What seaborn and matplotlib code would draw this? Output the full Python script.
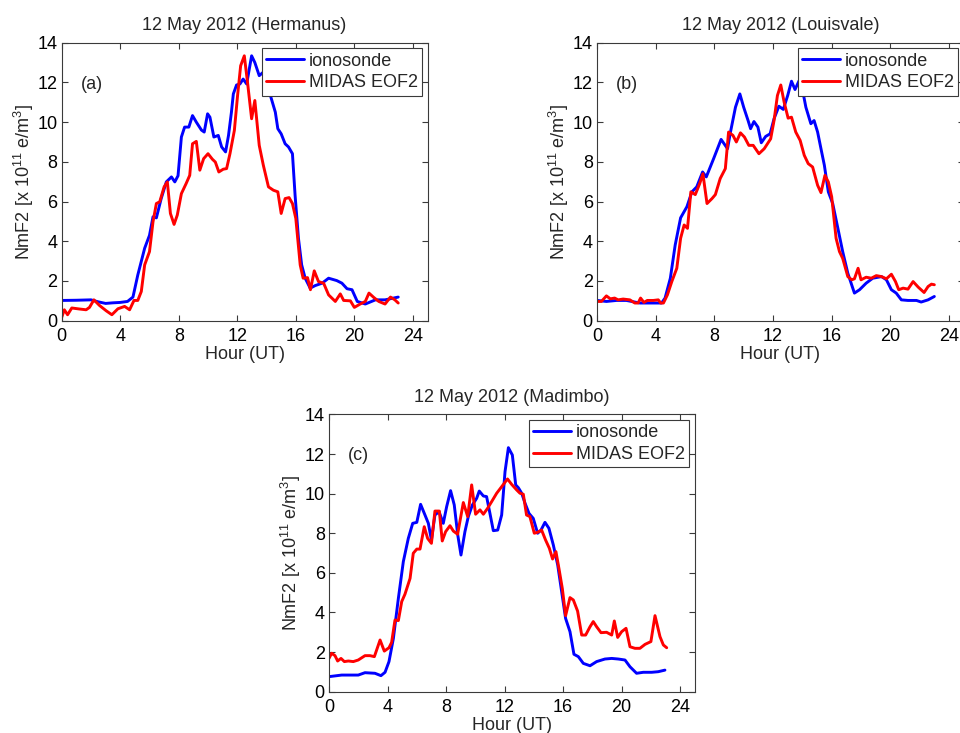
import numpy as np
import pandas as pd
import matplotlib
matplotlib.use("Agg")
import matplotlib.pyplot as plt
import seaborn as sns

# ---------------- data ----------------
series_names = ["ionosonde", "MIDAS EOF2"]
series_colors = ["#0000ff", "#ff0000"]
x_ticks = [0, 4, 8, 12, 16, 20, 24]
y_ticks = [0, 2, 4, 6, 8, 10, 12, 14]

herm_iono_hour = [0, 1, 2, 2.5, 3, 3.5, 4, 4.5, 4.87, 5.2, 5.67, 6.0, 6.24, 6.47, 6.8, 7.15,
                  7.5, 7.73, 7.95, 8.18, 8.4, 8.69, 8.94, 9.2, 9.55, 9.74, 9.97, 10.13, 10.4,
                  10.7, 10.93, 11.2, 11.4, 11.6, 11.73, 11.95, 12.18, 12.4, 12.64, 12.98, 13.2,
                  13.5, 13.75, 14.0, 14.3, 14.6, 14.77, 15.0, 15.27, 15.5, 15.77, 15.95, 16.18,
                  16.4, 16.64, 16.98, 17.33, 17.8, 18.24, 18.8, 19.15, 19.5, 19.84, 20.2, 20.75,
                  21.44, 22.1, 23.0]
herm_iono_val = [1.02, 1.03, 1.05, 0.95, 0.87, 0.9, 0.92, 0.97, 1.19, 2.3, 3.65, 4.3, 5.23, 5.18,
                 6.15, 6.99, 7.24, 6.99, 7.3, 9.25, 9.75, 9.75, 10.33, 10.0, 9.6, 9.5, 10.42,
                 10.25, 9.25, 9.33, 8.75, 8.5, 9.33, 10.5, 11.42, 11.87, 11.92, 12.17, 11.92,
                 13.34, 13.0, 12.34, 12.5, 12.2, 11.25, 10.5, 9.67, 9.41, 8.91, 8.75, 8.41, 6.32,
                 4.15, 2.81, 2.14, 1.64, 1.77, 1.89, 2.14, 2.02, 1.89, 1.61, 1.56, 0.97, 0.84,
                 1.05, 1.05, 1.19]
herm_midas_hour = [0, 0.18, 0.4, 0.69, 1.2, 1.67, 1.9, 2.2, 2.58, 3.04, 3.43, 3.84, 4.3, 4.64,
                   4.94, 5.2, 5.44, 5.67, 6.0, 6.24, 6.47, 6.7, 7.0, 7.22, 7.43, 7.68, 7.9, 8.18,
                   8.5, 8.75, 8.94, 9.2, 9.44, 9.7, 10.0, 10.3, 10.5, 10.74, 11.04, 11.27, 11.5,
                   11.8, 12.02, 12.23, 12.48, 12.7, 12.98, 13.2, 13.5, 13.78, 14.13, 14.47, 14.77,
                   15.0, 15.27, 15.54, 15.77, 16.0, 16.3, 16.5, 16.8, 17.0, 17.26, 17.55, 17.9,
                   18.24, 18.7, 19.04, 19.27, 19.73, 20.0, 20.4, 20.75, 21.0, 21.33, 21.67, 22.1,
                   22.47, 22.77, 23.0]
herm_midas_val = [0.17, 0.55, 0.3, 0.64, 0.59, 0.55, 0.67, 1.05, 0.77, 0.5, 0.3, 0.6, 0.72, 0.55,
                  1.02, 1.02, 1.47, 2.81, 3.48, 4.98, 5.9, 5.99, 6.74, 6.99, 5.4, 4.85, 5.32, 6.4,
                  6.9, 7.32, 8.91, 9.03, 7.58, 8.16, 8.41, 8.13, 7.99, 7.49, 7.63, 7.66, 8.41,
                  9.58, 11.34, 12.84, 13.34, 12.0, 10.17, 11.09, 8.83, 7.83, 6.74, 6.57, 6.49,
                  5.4, 6.15, 6.2, 5.9, 5.15, 2.81, 2.14, 2.17, 1.56, 2.51, 1.97, 1.89, 1.3, 0.97,
                  1.35, 1.02, 1.0, 0.67, 0.84, 0.97, 1.39, 1.17, 0.97, 0.84, 1.19, 1.05, 0.89]

louis_iono_hour = [0, 0.64, 1.33, 2.0, 2.93, 3.6, 4.4, 4.64, 5.0, 5.33, 5.7, 6.13, 6.47, 6.8,
                   7.2, 7.45, 7.95, 8.46, 8.9, 9.1, 9.44, 9.74, 10.0, 10.3, 10.47, 10.7, 10.97,
                   11.2, 11.5, 11.8, 12.07, 12.4, 12.7, 13.0, 13.26, 13.5, 13.78, 14.0, 14.24,
                   14.58, 14.8, 15.04, 15.27, 15.5, 15.77, 16.07, 16.4, 16.75, 17.1, 17.55, 17.9,
                   18.35, 18.8, 19.4, 19.73, 20.07, 20.4, 20.75, 21.2, 21.78, 22.1, 22.57, 23.0]
louis_iono_val = [1.02, 0.97, 1.02, 1.02, 0.89, 0.89, 0.89, 1.14, 2.14, 3.81, 5.18, 5.74, 6.49,
                  6.74, 7.49, 7.24, 8.16, 9.13, 8.66, 9.5, 10.75, 11.42, 10.75, 10.08, 9.67,
                  10.03, 9.75, 8.96, 9.28, 9.41, 10.17, 10.8, 10.64, 11.34, 12.06, 11.64, 12.09,
                  11.67, 10.75, 9.92, 10.08, 9.5, 8.66, 7.83, 6.49, 5.9, 4.73, 3.48, 2.39, 1.39,
                  1.56, 1.89, 2.14, 2.22, 2.06, 1.56, 1.39, 1.05, 1.02, 1.02, 0.94, 1.05, 1.22]
louis_midas_hour = [0, 0.3, 0.64, 0.91, 1.2, 1.44, 1.78, 2.24, 2.58, 2.8, 2.97, 3.2, 3.43, 3.84,
                    4.18, 4.34, 4.53, 4.8, 5.1, 5.44, 5.7, 5.94, 6.17, 6.4, 6.7, 7.0, 7.22, 7.5,
                    7.84, 8.07, 8.4, 8.75, 8.97, 9.27, 9.5, 9.78, 10.05, 10.35, 10.65, 11.04,
                    11.4, 11.84, 12.07, 12.3, 12.53, 12.76, 13.03, 13.26, 13.55, 13.85, 14.13,
                    14.4, 14.7, 15.04, 15.27, 15.54, 15.77, 16.0, 16.3, 16.53, 16.75, 17.1, 17.37,
                    17.55, 17.8, 18.0, 18.35, 18.7, 19.04, 19.4, 19.73, 20.07, 20.35, 20.57,
                    20.87, 21.2, 21.55, 21.9, 22.3, 22.57, 22.8, 23.0]
louis_midas_val = [0.97, 0.97, 1.25, 1.1, 1.14, 1.05, 1.09, 1.05, 0.89, 0.89, 1.14, 0.92, 1.02,
                   1.02, 1.05, 0.89, 0.89, 1.3, 1.97, 2.64, 4.15, 4.82, 4.65, 6.49, 6.35, 6.9,
                   7.4, 5.9, 6.15, 6.35, 7.16, 7.66, 9.5, 9.33, 9.0, 9.46, 9.25, 8.83, 8.83, 8.41,
                   8.66, 9.16, 10.08, 11.34, 11.87, 11.0, 10.2, 10.25, 9.5, 9.08, 8.33, 7.91,
                   7.74, 6.82, 6.45, 7.32, 6.99, 6.24, 4.15, 3.48, 3.14, 2.22, 2.06, 2.11, 2.64,
                   2.06, 2.19, 2.14, 2.27, 2.22, 2.11, 2.34, 1.97, 1.56, 1.64, 1.59, 1.97, 1.69,
                   1.42, 1.72, 1.84, 1.81]

madi_iono_hour = [0, 0.87, 2.0, 2.46, 3.14, 3.55, 3.83, 4.1, 4.4, 4.74, 5.08, 5.42, 5.72, 6.0,
                  6.26, 6.56, 6.79, 7.0, 7.24, 7.52, 7.81, 8.04, 8.31, 8.56, 8.8, 9.02, 9.29,
                  9.52, 9.8, 10.09, 10.27, 10.55, 10.77, 11.0, 11.23, 11.53, 11.8, 12.03, 12.26,
                  12.53, 12.76, 12.94, 13.17, 13.4, 13.67, 13.96, 14.26, 14.49, 14.76, 15.03,
                  15.33, 15.63, 15.9, 16.17, 16.47, 16.74, 17.04, 17.38, 17.84, 18.29, 18.86,
                  19.32, 19.77, 20.23, 20.57, 21.02, 21.48, 22.05, 22.5, 22.96]
madi_iono_val = [0.76, 0.84, 0.84, 0.96, 0.93, 0.81, 0.98, 1.52, 2.69, 4.71, 6.57, 7.74, 8.5,
                 8.55, 9.46, 8.92, 8.5, 7.66, 8.92, 9.09, 8.5, 9.34, 10.15, 9.43, 7.91, 6.9,
                 8.08, 8.84, 9.43, 9.76, 10.13, 9.88, 9.85, 9.0, 8.13, 8.16, 8.92, 11.11, 12.32,
                 11.95, 10.44, 10.3, 10.02, 9.51, 9.0, 8.75, 8.0, 8.16, 8.55, 8.25, 7.41, 6.4,
                 5.05, 3.7, 3.03, 1.89, 1.77, 1.43, 1.31, 1.52, 1.65, 1.68, 1.65, 1.6, 1.26,
                 0.93, 0.98, 0.98, 1.01, 1.09]
madi_midas_hour = [0, 0.18, 0.41, 0.59, 0.82, 1.05, 1.32, 1.66, 2.0, 2.46, 2.8, 3.1, 3.49, 3.78,
                   4.1, 4.28, 4.51, 4.74, 4.97, 5.19, 5.54, 5.76, 6.0, 6.22, 6.51, 6.74, 7.0,
                   7.24, 7.54, 7.74, 7.97, 8.27, 8.5, 8.79, 9.18, 9.48, 9.75, 10.02, 10.32, 10.55,
                   10.84, 11.12, 11.46, 11.8, 12.2, 12.48, 12.82, 13.05, 13.28, 13.5, 13.73,
                   14.03, 14.26, 14.53, 14.8, 15.06, 15.28, 15.51, 15.72, 15.95, 16.17, 16.47,
                   16.7, 16.99, 17.27, 17.54, 17.84, 18.06, 18.29, 18.59, 18.97, 19.32, 19.5,
                   19.73, 20.0, 20.3, 20.57, 20.91, 21.25, 21.6, 22.0, 22.28, 22.62, 22.85, 23.08]
madi_midas_val = [1.68, 1.94, 1.82, 1.55, 1.68, 1.52, 1.55, 1.52, 1.6, 1.82, 1.82, 1.77, 2.61,
                  2.05, 2.22, 2.49, 3.62, 3.59, 4.55, 4.92, 5.72, 6.99, 7.2, 7.2, 8.33, 7.74,
                  7.49, 9.12, 9.12, 7.61, 8.08, 8.38, 8.11, 7.95, 9.55, 8.84, 10.44, 8.96, 9.18,
                  8.96, 9.26, 9.6, 10.02, 10.35, 10.74, 10.47, 10.19, 10.02, 9.97, 8.92, 8.84,
                  8.0, 8.05, 8.16, 7.66, 7.24, 6.7, 7.07, 6.2, 5.19, 3.84, 4.75, 4.63, 4.07,
                  2.86, 2.86, 3.28, 3.54, 3.28, 2.98, 3.0, 2.86, 3.57, 2.74, 3.03, 3.2, 2.27,
                  2.19, 2.19, 2.39, 2.53, 3.84, 2.78, 2.36, 2.22]

titles = ["12 May 2012 (Hermanus)", "12 May 2012 (Louisvale)", "12 May 2012 (Madimbo)"]
panel_labels = ["(a)", "(b)", "(c)"]
y_label = r"NmF2 [x 10$^{11}$ e/m$^{3}$]"
x_label = "Hour (UT)"

# ---------------- style ----------------
sns.set_style("ticks")
plt.rcParams.update({
    "font.family": ["Liberation Sans", "DejaVu Sans"],
    "font.size": 13,
    "mathtext.fontset": "custom",
    "mathtext.rm": "Liberation Sans",
    "mathtext.it": "Liberation Sans:italic",
    "mathtext.bf": "Liberation Sans:bold",
    "mathtext.default": "regular",
    "axes.edgecolor": "#3a3a3a",
    "axes.linewidth": 0.8,
    "xtick.direction": "in",
    "ytick.direction": "in",
    "xtick.top": True,
    "ytick.right": True,
    "xtick.major.size": 4,
    "ytick.major.size": 4,
    "xtick.major.width": 0.8,
    "ytick.major.width": 0.8,
    "xtick.major.pad": 5.5,
    "ytick.major.pad": 3,
    "xtick.color": "#3a3a3a",
    "ytick.color": "#3a3a3a",
    "xtick.labelcolor": "black",
    "ytick.labelcolor": "black",
    "xtick.labelsize": 13,
    "ytick.labelsize": 13,
    "axes.labelsize": 13,
    "axes.titlesize": 13,
})

fig = plt.figure(figsize=(9.6, 7.33), dpi=100)
W, H = 960.0, 733.0
rects = [
    (61.7 / W, (H - 320.7) / H, 365.8 / W, 278.0 / H),
    (597.0 / W, (H - 320.7) / H, 366.7 / W, 278.0 / H),
    (329.0 / W, (H - 691.7) / H, 365.8 / W, 277.3 / H),
]
data = [
    (herm_iono_hour, herm_iono_val, herm_midas_hour, herm_midas_val),
    (louis_iono_hour, louis_iono_val, louis_midas_hour, louis_midas_val),
    (madi_iono_hour, madi_iono_val, madi_midas_hour, madi_midas_val),
]
palette = dict(zip(series_names, series_colors))

for i, rect in enumerate(rects):
    ax = fig.add_axes(rect)
    ih, iv, mh, mv = data[i]
    df = pd.concat([
        pd.DataFrame({"hour": ih, "value": iv, "series": series_names[0]}),
        pd.DataFrame({"hour": mh, "value": mv, "series": series_names[1]}),
    ], ignore_index=True)
    sns.lineplot(data=df, x="hour", y="value", hue="series", palette=palette,
                 estimator=None, sort=False, linewidth=2.1, ax=ax)
    ax.set_xlim(0, 25)
    ax.set_ylim(0, 14)
    ax.set_xticks(x_ticks)
    ax.set_yticks(y_ticks)
    ax.set_xlabel(x_label, labelpad=0.5)
    ax.set_ylabel(y_label, labelpad=1)
    ax.set_title(titles[i], pad=9)
    ax.text(1.3, 11.9, panel_labels[i], va="center", ha="left", fontsize=13)
    handles, labels = ax.get_legend_handles_labels()
    leg = ax.legend(handles, labels, loc="upper right", fontsize=13, frameon=True,
                    fancybox=False, framealpha=1, edgecolor="#3a3a3a",
                    borderaxespad=0.3, borderpad=0.25, labelspacing=0.25,
                    handlelength=2.1, handletextpad=0.25)
    leg.get_frame().set_linewidth(0.8)
    for sp in ax.spines.values():
        sp.set_visible(True)

fig.savefig("out.png", dpi=100)
